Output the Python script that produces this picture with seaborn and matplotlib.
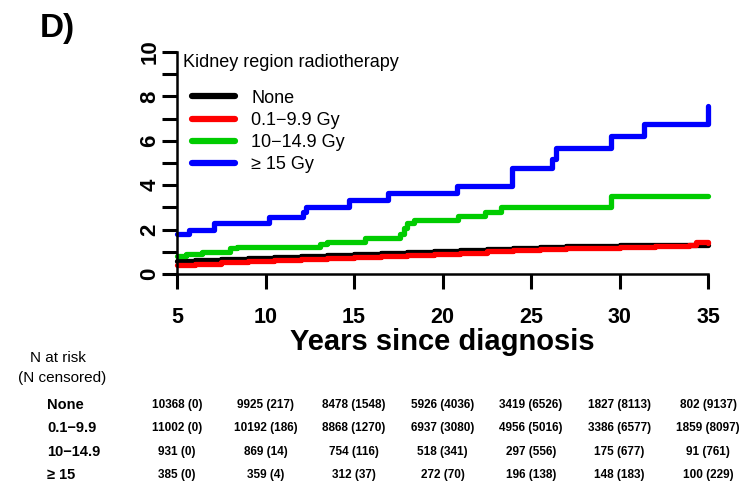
import pandas as pd
import numpy as np
import matplotlib
matplotlib.use("Agg")
import matplotlib.pyplot as plt
import matplotlib.transforms as mtransforms
import seaborn as sns

#------------------------------------------------------------------------------------------------------
#    DATOS
#------------------------------------------------------------------------------------------------------
grupos = ['None', '0.1\u22129.9 Gy', '10\u221214.9 Gy', '\u2265 15 Gy']
colores = {'None': 'black', '0.1\u22129.9 Gy': '#ff0000',
           '10\u221214.9 Gy': '#00cc00', '\u2265 15 Gy': '#0000ff'}

# Incidencia acumulada (%) por grupo, escalones
anos_none = [5, 6, 7.5, 9, 10.5, 12, 13.5, 15, 16.5, 18, 19.5, 21, 22.5, 24, 25.5, 27, 28.5, 30, 32, 35]
inc_none = [0.6, 0.63, 0.68, 0.72, 0.76, 0.8, 0.85, 0.9, 0.95, 1.0, 1.04, 1.1, 1.14, 1.18, 1.22, 1.25, 1.27, 1.29, 1.3, 1.31]

anos_baja = [5, 6, 7.5, 9, 10.5, 12, 13.5, 15, 16.5, 18, 19.5, 21, 22.5, 24, 25.5, 27, 28.5, 30, 32, 33.9, 34.3, 35]
inc_baja = [0.42, 0.46, 0.52, 0.57, 0.62, 0.66, 0.71, 0.75, 0.8, 0.85, 0.9, 0.96, 1.02, 1.07, 1.12, 1.16, 1.19, 1.22, 1.25, 1.3, 1.42, 1.4]

anos_media = [5, 5.5, 6.4, 8.0, 8.4, 13.1, 13.5, 15.6, 17.6, 17.8, 18.0, 18.4, 20.9, 22.4, 23.3, 29.5, 35]
inc_media = [0.82, 0.9, 1.0, 1.15, 1.22, 1.35, 1.42, 1.6, 1.8, 2.05, 2.3, 2.45, 2.6, 2.8, 3.02, 3.5, 3.5]

anos_alta = [5, 5.7, 7.1, 10.2, 12.1, 12.3, 14.7, 16.9, 20.8, 23.9, 26.2, 26.4, 29.5, 31.4, 35]
inc_alta = [1.78, 2.0, 2.28, 2.57, 2.8, 3.03, 3.35, 3.63, 3.95, 4.76, 5.2, 5.68, 6.2, 6.77, 7.56]

# Tabla de pacientes en riesgo
anos_tabla = [5, 10, 15, 20, 25, 30, 35]
filas_tabla = ['None', '0.1\u22129.9', '10\u221214.9', '\u2265 15']
riesgo_none = ['10368 (0)', '9925 (217)', '8478 (1548)', '5926 (4036)', '3419 (6526)', '1827 (8113)', '802 (9137)']
riesgo_baja = ['11002 (0)', '10192 (186)', '8868 (1270)', '6937 (3080)', '4956 (5016)', '3386 (6577)', '1859 (8097)']
riesgo_media = ['931 (0)', '869 (14)', '754 (116)', '518 (341)', '297 (556)', '175 (677)', '91 (761)']
riesgo_alta = ['385 (0)', '359 (4)', '312 (37)', '272 (70)', '196 (138)', '148 (183)', '100 (229)']

# DataFrame largo para seaborn
df_curvas = pd.concat([
    pd.DataFrame({'anos': anos_none, 'inc': inc_none, 'grupo': grupos[0]}),
    pd.DataFrame({'anos': anos_baja, 'inc': inc_baja, 'grupo': grupos[1]}),
    pd.DataFrame({'anos': anos_media, 'inc': inc_media, 'grupo': grupos[2]}),
    pd.DataFrame({'anos': anos_alta, 'inc': inc_alta, 'grupo': grupos[3]}),
], ignore_index=True)

#------------------------------------------------------------------------------------------------------
#    GRAFICO
#------------------------------------------------------------------------------------------------------
sns.set_theme(style="ticks")
plt.rcParams['font.family'] = ['Liberation Sans', 'DejaVu Sans']
plt.rcParams['text.color'] = 'black'
plt.rcParams['axes.labelcolor'] = 'black'

fig = plt.figure(figsize=(7.43, 4.95), dpi=100)
ax = fig.add_axes([177 / 743, 1 - 274 / 495, 531 / 743, 222 / 495])

sns.lineplot(data=df_curvas, x='anos', y='inc', hue='grupo', hue_order=grupos,
             palette=colores, drawstyle='steps-post', linewidth=3.8,
             estimator=None, sort=False, legend=False, clip_on=False, ax=ax)

ax.set_xlim(5, 35)
ax.set_ylim(0, 10)
ax.set_xticks(anos_tabla)
ax.set_xticklabels([str(a) for a in anos_tabla], fontweight='bold')
ax.set_yticks(range(0, 11))
ax.set_yticklabels([str(v) if v % 2 == 0 else '' for v in range(0, 11)], fontweight='bold')
ax.tick_params(axis='both', direction='out', length=11, width=2.2, color='black', labelcolor='black')
ax.tick_params(axis='x', labelsize=15.5, pad=13)
ax.tick_params(axis='y', labelsize=16, pad=1, labelrotation=90)
for lab in ax.get_yticklabels():
    lab.set_va('center')

sns.despine(ax=ax)
for lado in ['left', 'bottom']:
    ax.spines[lado].set_linewidth(1.8)
    ax.spines[lado].set_color('black')

ax.set_xlabel('Years since diagnosis', fontsize=21, fontweight='bold', labelpad=0)
ax.set_ylabel('')
ax.grid(False)

# Leyenda
lineas = ax.get_lines()[:4]
leg = ax.legend(lineas, grupos, loc='upper left', bbox_to_anchor=(0.028, 0.83),
                frameon=False, fontsize=13, handlelength=2.4, handletextpad=0.9,
                labelspacing=0.29, borderpad=0, borderaxespad=0)
for h in leg.get_lines():
    h.set_linewidth(4.5)
fig.text(183 / 743, 1 - 63 / 495, 'Kidney region radiotherapy', fontsize=13,
         ha='left', va='center')

fig.text(40 / 743, 1 - 28 / 495, 'D)', fontsize=24, fontweight='bold', ha='left', va='center')

# Tabla de riesgo
fig.text(58 / 743, 1 - 358 / 495, 'N at risk', fontsize=11, ha='center', va='center')
fig.text(62 / 743, 1 - 378 / 495, '(N censored)', fontsize=11, ha='center', va='center')

trans = mtransforms.blended_transform_factory(ax.transData, fig.transFigure)
filas_y = [405, 428, 452, 475]
for nombre, valores, ypx in zip(filas_tabla, [riesgo_none, riesgo_baja, riesgo_media, riesgo_alta], filas_y):
    fig.text(47 / 743, 1 - ypx / 495, nombre, fontsize=10.5, fontweight='bold', ha='left', va='center')
    for a, v in zip(anos_tabla, valores):
        ax.text(a, 1 - ypx / 495, v, transform=trans, fontsize=8.5, fontweight='bold',
                ha='center', va='center', clip_on=False)

plt.savefig('out.png', dpi=100)
